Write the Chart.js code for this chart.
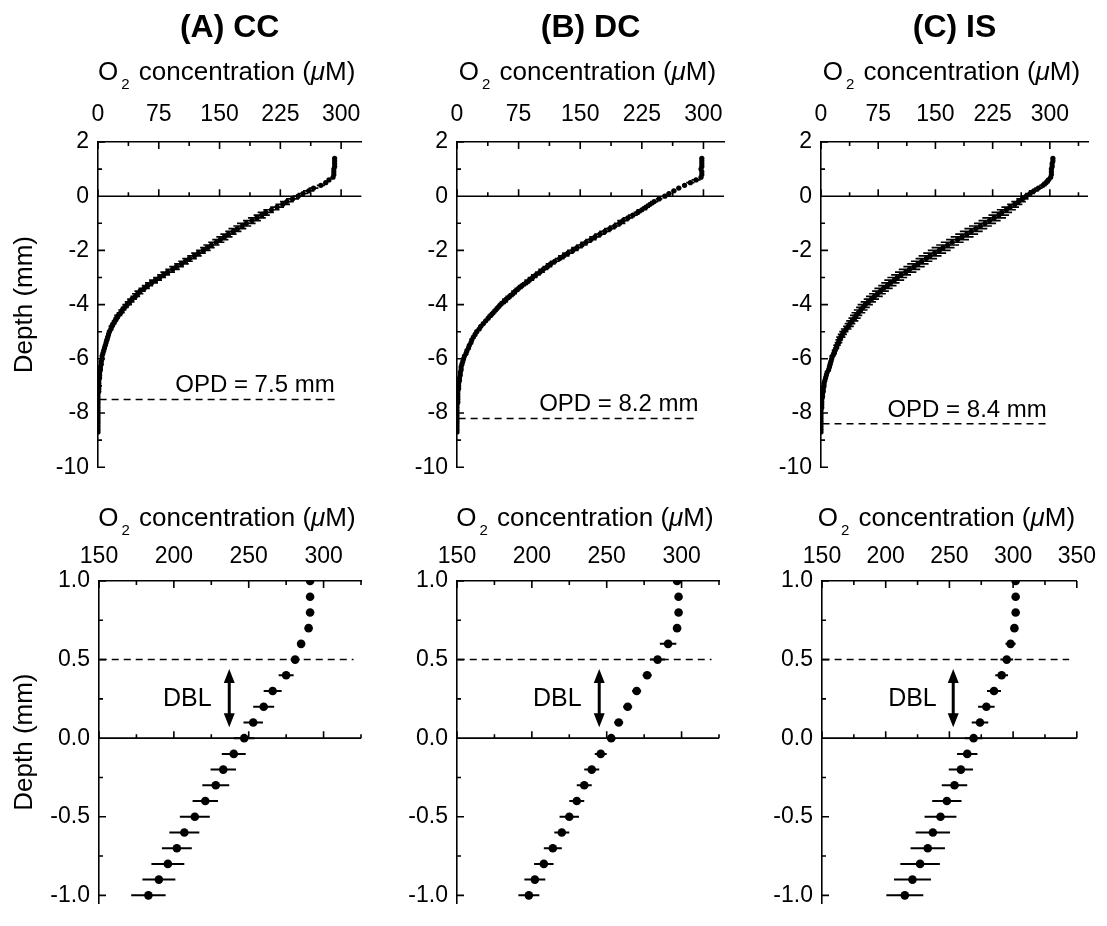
<!DOCTYPE html>
<html>
<head>
<meta charset="utf-8">
<script src="https://cdn.jsdelivr.net/npm/chart.js@4.4.1/dist/chart.umd.min.js"></script>
<style>
  html, body { margin: 0; padding: 0; background: #fff; }
  #wrap { position: relative; width: 1107px; height: 926px; overflow: hidden; }
  #wrap canvas { position: absolute; }
</style>
</head>
<body>
<div id="wrap"></div>
<script>
// depth of each profile point (mm), shared by all three profiles
const DEPTH = [
  1.4, 1.3, 1.2, 1.1, 1.0, 0.9, 0.8, 0.7, 0.6, 0.5,
  0.4, 0.3, 0.2, 0.1, 0.0, -0.1, -0.2, -0.3, -0.4, -0.5,
  -0.6, -0.7, -0.8, -0.9, -1.0, -1.1, -1.2, -1.3, -1.4, -1.5,
  -1.6, -1.7, -1.8, -1.9, -2.0, -2.1, -2.2, -2.3, -2.4, -2.5,
  -2.6, -2.7, -2.8, -2.9, -3.0, -3.1, -3.2, -3.3, -3.4, -3.5,
  -3.6, -3.7, -3.8, -3.9, -4.0, -4.1, -4.2, -4.3, -4.4, -4.5,
  -4.6, -4.7, -4.8, -4.9, -5.0, -5.1, -5.2, -5.3, -5.4, -5.5,
  -5.6, -5.7, -5.8, -5.9, -6.0, -6.1, -6.2, -6.3, -6.4, -6.5,
  -6.6, -6.7, -6.8, -6.9, -7.0, -7.1, -7.2, -7.3, -7.4, -7.5,
  -7.6, -7.7, -7.8, -7.9, -8.0, -8.1, -8.2, -8.3, -8.4, -8.5,
  -8.6, -8.7
];

// O2 concentration (uM) and +/- error, (A) CC
const O2_CC = [
  292, 292, 292, 292, 291, 291, 291, 290, 285, 281,
  275, 266, 260, 253, 247, 240, 233, 228, 221, 214,
  207, 202, 196, 190, 183, 178, 172, 167, 161, 156,
  151, 146, 140, 135, 130, 124, 119, 113, 108, 103,
  97, 92, 86, 81, 76, 71, 66, 61, 57, 52,
  49, 46, 42, 39, 36, 33, 30, 28, 25, 23,
  21, 19, 17, 16, 14, 13, 12, 11, 10, 9,
  8, 7, 6, 5, 5, 4, 4, 3, 3, 2,
  2, 2, 1, 1, 1, 1, 1, 0, 0, 0,
  0, 0, 0, 0, 0, 0, 0, 0, 0, 0,
  0, 0
];
const ERR_CC = [
  1, 1, 1, 1, 1, 1, 1, 2, 2, 3,
  5, 6, 7, 6.5, 7, 8, 8.5, 9, 8.5, 10,
  10, 10, 11, 11, 11.5, 11, 11, 10, 10, 10,
  10, 10, 10, 9, 9, 9, 9, 9, 9, 9,
  9, 9, 9, 8, 8, 8, 8, 7, 7, 7,
  7, 6, 6, 6, 6, 5, 5, 5, 5, 4,
  4, 4, 4, 3, 3, 3, 3, 3, 2, 2,
  2, 2, 2, 2, 2, 2, 1, 1, 1, 1,
  1, 1, 1, 1, 1, 1, 1, 1, 1, 1,
  1, 1, 1, 1, 1, 1, 1, 1, 1, 1,
  1, 1
];

// (B) DC
const O2_DC = [
  298, 298, 298, 298, 297, 298, 298, 297, 291, 284,
  277, 270, 264, 258, 253, 246, 240, 235, 230, 225,
  220, 214, 208, 202, 198, 192, 186, 180, 174, 168,
  163, 157, 152, 146, 141, 135, 130, 125, 119, 114,
  110, 105, 101, 96, 92, 88, 84, 79, 75, 71,
  68, 64, 60, 57, 53, 50, 47, 44, 41, 38,
  35, 32, 29, 27, 24, 22, 20, 18, 17, 15,
  14, 12, 11, 9, 8, 7, 6, 5, 5, 4,
  4, 3, 3, 2, 2, 2, 1, 1, 1, 1,
  1, 0, 0, 0, 0, 0, 0, 0, 0, 0,
  0, 0
];
const ERR_DC = [
  1, 1, 1, 1, 1, 1, 1, 1, 5.5, 5,
  3, 3, 3, 3, 3, 4, 5, 5, 5, 6.5,
  5, 6, 6.5, 7, 7, 7, 7, 7, 7, 7,
  7, 7, 7, 7, 7, 7, 7, 6, 6, 6,
  6, 6, 6, 6, 6, 6, 5, 5, 5, 5,
  5, 5, 5, 5, 4, 4, 4, 4, 4, 3,
  3, 3, 3, 3, 3, 2, 2, 2, 2, 2,
  2, 2, 2, 2, 1, 1, 1, 1, 1, 1,
  1, 1, 1, 1, 1, 1, 1, 1, 1, 1,
  1, 1, 1, 1, 1, 1, 1, 1, 1, 1,
  1, 1
];

// (C) IS
const O2_IS = [
  304, 304, 303, 303, 302, 302, 302, 301, 298, 295,
  291, 285, 279, 274, 269, 264, 259, 254, 248, 243,
  237, 233, 227, 221, 215, 209, 203, 197, 191, 185,
  179, 172, 166, 160, 155, 149, 143, 138, 132, 127,
  122, 116, 111, 105, 100, 96, 91, 87, 82, 78,
  74, 70, 66, 62, 58, 55, 52, 49, 46, 44,
  41, 38, 36, 33, 30, 28, 26, 24, 23, 21,
  20, 18, 17, 15, 14, 13, 12, 11, 10, 8,
  7, 6, 5, 4, 4, 3, 3, 2, 2, 1,
  1, 1, 1, 0, 0, 0, 0, 0, 0, 0,
  0, 0
];
const ERR_IS = [
  1, 1, 1, 1, 1, 1, 1, 1, 4, 5,
  5, 5.5, 6.5, 6.5, 7, 8, 9.5, 10, 11.5, 12.5,
  13.5, 13.5, 15.5, 14.5, 14.5, 15, 15, 15, 15, 15,
  15, 15, 15, 15, 15, 15, 15, 14, 14, 14,
  14, 14, 14, 13, 13, 13, 12, 12, 12, 11,
  11, 11, 10, 10, 10, 9, 9, 9, 8, 8,
  8, 7, 7, 7, 6, 6, 6, 5, 5, 5,
  4, 4, 4, 4, 3, 3, 3, 3, 2, 2,
  2, 2, 2, 2, 2, 1, 1, 1, 1, 1,
  1, 1, 1, 1, 1, 1, 1, 1, 1, 1,
  1, 1
];

// ticks (all marks) and labelled ticks
const X_TICKS_TOP = [0, 37.5, 75, 112.5, 150, 187.5, 225, 262.5, 300, 337.5];
const X_LABELS_TOP = [0, 75, 150, 225, 300];
const Y_TICKS_TOP = [2, 1, 0, -1, -2, -3, -4, -5, -6, -7, -8, -9, -10];
const Y_LABELS_TOP = [2, 0, -2, -4, -6, -8, -10];
const X_TICKS_BOT = [150, 175, 200, 225, 250, 275, 300, 325, 350];
const X_LABELS_BOT = [150, 200, 250, 300, 350];
const Y_TICKS_BOT = [1, 0.75, 0.5, 0.25, 0, -0.25, -0.5, -0.75, -1];
const Y_LABELS_BOT = [1, 0.5, 0, -0.5, -1];

// annotations: oxygen penetration depth and diffusive boundary layer
const OPD_DEPTH = [-7.5, -8.2, -8.4];
const OPD_END = [292, 294, 296];
const OPD_TEXT = ['OPD = 7.5 mm', 'OPD = 8.2 mm', 'OPD = 8.4 mm'];
const DBL_TOP = 0.5;
const DBL_END = [320, 320, 344];
const DBL_ARROW_X = [237, 245, 253];
const DBL_ARROW_Y = [0.44, 0.07];
const DBL_TEXT_X = [209, 217, 221];
const DBL_TEXT_Y = 0.25;

const TITLES = ['(A) CC', '(B) DC', '(C) IS'];
const SERIES = [[O2_CC, ERR_CC], [O2_DC, ERR_DC], [O2_IS, ERR_IS]];

const FONT = '"Liberation Sans", Arial, Helvetica, sans-serif';
const Y_AXIS_W = 60;
const X_AXIS_H = 50;

// canvas boxes per column, plot paddings per panel
const COLS = [
  { x: 0, w: 375, top: { l: 98, r: 9 }, bot: { l: 99, r: 14 } },
  { x: 375, w: 365, top: { l: 82, r: 16 }, bot: { l: 82, r: 21 } },
  { x: 740, w: 367, top: { l: 81, r: 19 }, bot: { l: 82, r: 24 } }
];

function drawAxisTitle(ctx, cx, baseline) {
  const big = '26px ' + FONT, small = '15px ' + FONT;
  const parts = [
    { t: 'O', f: big, dy: 0 },
    { t: '2', f: small, dy: 9, pre: 3 },
    { t: ' concentration (', f: big, dy: 0, pre: 2 },
    { t: '\u03bc', f: 'italic ' + big, dy: 0 },
    { t: 'M)', f: big, dy: 0 }
  ];
  let total = 0;
  parts.forEach(p => { ctx.font = p.f; p.w = ctx.measureText(p.t).width; total += p.w + (p.pre || 0); });
  let x = cx - total / 2;
  ctx.textAlign = 'left';
  ctx.textBaseline = 'alphabetic';
  parts.forEach(p => {
    x += p.pre || 0;
    ctx.font = p.f;
    ctx.fillText(p.t, x, baseline + p.dy);
    x += p.w;
  });
}

const decoPlugin = {
  id: 'deco',
  beforeDatasetsDraw(chart, args, o) {
    const { ctx, chartArea } = chart;
    const xs = chart.scales.x, ys = chart.scales.y;
    ctx.save();
    ctx.beginPath();
    ctx.rect(chartArea.left, chartArea.top, chartArea.right - chartArea.left, chartArea.bottom - chartArea.top);
    ctx.clip();
    ctx.strokeStyle = '#000';
    ctx.lineWidth = o.errWidth;
    ctx.beginPath();
    o.conc.forEach((c, i) => {
      const y = ys.getPixelForValue(DEPTH[i]);
      ctx.moveTo(xs.getPixelForValue(c - o.err[i]), y);
      ctx.lineTo(xs.getPixelForValue(c + o.err[i]), y);
    });
    ctx.stroke();
    ctx.restore();
  },
  afterDraw(chart, args, o) {
    const { ctx, chartArea } = chart;
    const { left, right, top, bottom } = chartArea;
    const xs = chart.scales.x, ys = chart.scales.y;
    const y0 = ys.getPixelForValue(0);
    ctx.save();
    ctx.fillStyle = '#000';
    ctx.strokeStyle = '#000';

    // zero line and tick marks
    ctx.lineWidth = 1.6;
    ctx.beginPath();
    ctx.moveTo(left, y0); ctx.lineTo(right, y0);
    o.xTicks.forEach(v => {
      if (v < xs.min || v > xs.max) return;
      const len = o.xLabels.includes(v) ? 7 : 4;
      const px = xs.getPixelForValue(v);
      ctx.moveTo(px, top); ctx.lineTo(px, top + len);
      ctx.moveTo(px, y0); ctx.lineTo(px, y0 - len);
    });
    o.yTicks.forEach(v => {
      if (v < ys.min || v > ys.max) return;
      const len = o.yLabels.includes(v) ? 7 : 4;
      const py = ys.getPixelForValue(v);
      ctx.moveTo(left, py); ctx.lineTo(left + len, py);
    });
    ctx.stroke();

    // dashed reference line
    ctx.lineWidth = 1.5;
    ctx.setLineDash([7, 5]);
    const dy = ys.getPixelForValue(o.dashY);
    ctx.beginPath();
    ctx.moveTo(xs.getPixelForValue(o.dashFrom), dy);
    ctx.lineTo(xs.getPixelForValue(o.dashTo), dy);
    ctx.stroke();
    ctx.setLineDash([]);

    if (o.opdText) {
      ctx.font = '24px ' + FONT;
      ctx.textAlign = 'right';
      ctx.textBaseline = 'alphabetic';
      ctx.fillText(o.opdText, xs.getPixelForValue(o.dashTo), dy - 7);
    }

    if (o.arrowX != null) {
      const ax = xs.getPixelForValue(o.arrowX);
      const a1 = ys.getPixelForValue(DBL_ARROW_Y[0]);
      const a2 = ys.getPixelForValue(DBL_ARROW_Y[1]);
      const h = 14, w = 5.5;
      ctx.lineWidth = 3;
      ctx.beginPath();
      ctx.moveTo(ax, a1 + h - 2); ctx.lineTo(ax, a2 - h + 2);
      ctx.stroke();
      ctx.beginPath();
      ctx.moveTo(ax, a1); ctx.lineTo(ax - w, a1 + h); ctx.lineTo(ax + w, a1 + h); ctx.closePath();
      ctx.moveTo(ax, a2); ctx.lineTo(ax - w, a2 - h); ctx.lineTo(ax + w, a2 - h); ctx.closePath();
      ctx.fill();
      ctx.font = '25px ' + FONT;
      ctx.textAlign = 'center';
      ctx.textBaseline = 'middle';
      ctx.fillText('DBL', xs.getPixelForValue(o.textX), ys.getPixelForValue(DBL_TEXT_Y));
    }

    // titles
    const cx = (left + right) / 2;
    if (o.title) {
      ctx.font = 'bold 32px ' + FONT;
      ctx.textAlign = 'center';
      ctx.textBaseline = 'middle';
      ctx.fillText(o.title, cx, 28);
    }
    drawAxisTitle(ctx, cx - 3, o.axisTitleY);

    if (o.depthLabel) {
      ctx.save();
      ctx.translate(25, (top + bottom) / 2);
      ctx.rotate(-Math.PI / 2);
      ctx.font = '26px ' + FONT;
      ctx.textAlign = 'center';
      ctx.textBaseline = 'middle';
      ctx.fillText('Depth (mm)', 0, 0);
      ctx.restore();
    }
    ctx.restore();
  }
};

function makePanel(col, row) {
  const c = COLS[col];
  const isTop = row === 0;
  const canvas = document.createElement('canvas');
  const y = isTop ? 0 : 490, h = isTop ? 490 : 436;
  canvas.width = c.w; canvas.height = h;
  canvas.style.left = c.x + 'px'; canvas.style.top = y + 'px';
  canvas.style.width = c.w + 'px'; canvas.style.height = h + 'px';
  document.getElementById('wrap').appendChild(canvas);

  const [conc, err] = SERIES[col];
  const pad = isTop ? c.top : c.bot;
  const plotTop = isTop ? 142 : 91;
  const xTicks = isTop ? X_TICKS_TOP : X_TICKS_BOT;
  const xLabels = isTop ? X_LABELS_TOP : X_LABELS_BOT;
  const yTicks = isTop ? Y_TICKS_TOP : Y_TICKS_BOT;
  const yLabels = isTop ? Y_LABELS_TOP : Y_LABELS_BOT;
  const xMin = isTop ? 0 : 150;
  const xMax = col === 2 ? 350 : 325;
  const tickFont = { family: FONT, size: 23 };

  new Chart(canvas, {
    type: 'scatter',
    data: {
      datasets: [{
        data: DEPTH.map((d, i) => ({ x: conc[i], y: d })),
        pointRadius: isTop ? 2.6 : 4.3,
        pointBackgroundColor: '#000',
        pointBorderWidth: 0,
        pointStyle: 'circle',
        clip: 0
      }]
    },
    options: {
      responsive: false,
      animation: false,
      events: [],
      layout: {
        padding: {
          left: pad.l - Y_AXIS_W,
          right: pad.r,
          top: plotTop - X_AXIS_H,
          bottom: isTop ? 10 : 3
        }
      },
      plugins: {
        legend: { display: false },
        tooltip: { enabled: false },
        deco: {
          conc, err,
          errWidth: isTop ? 1.7 : 2,
          xTicks, xLabels, yTicks, yLabels,
          dashY: isTop ? OPD_DEPTH[col] : DBL_TOP,
          dashFrom: isTop ? 2 : 150.5,
          dashTo: isTop ? OPD_END[col] : DBL_END[col],
          opdText: isTop ? OPD_TEXT[col] : null,
          arrowX: isTop ? null : DBL_ARROW_X[col],
          textX: DBL_TEXT_X[col],
          title: isTop ? TITLES[col] : null,
          axisTitleY: isTop ? 80 : 36,
          depthLabel: col === 0
        }
      },
      scales: {
        x: {
          type: 'linear',
          position: 'top',
          min: xMin,
          max: xMax,
          afterFit: s => { s.height = X_AXIS_H; },
          afterBuildTicks: s => { s.ticks = xTicks.filter(v => v >= s.min && v <= s.max).map(v => ({ value: v })); },
          ticks: {
            autoSkip: false, maxRotation: 0, color: '#000', font: tickFont,
            padding: isTop ? 14 : 11,
            callback: v => xLabels.includes(v) ? String(v) : ''
          },
          grid: { display: false, drawTicks: false },
          border: { display: true, color: '#000', width: 1.6 }
        },
        y: {
          type: 'linear',
          min: isTop ? -10 : -1.05,
          max: isTop ? 2 : 1,
          afterFit: s => { s.width = Y_AXIS_W; },
          afterBuildTicks: s => { s.ticks = yTicks.filter(v => v >= s.min && v <= s.max).map(v => ({ value: v })); },
          ticks: {
            autoSkip: false, color: '#000', font: tickFont, padding: 9,
            callback: v => yLabels.includes(v) ? (isTop ? String(v) : v.toFixed(1)) : ''
          },
          grid: { display: false, drawTicks: false },
          border: { display: true, color: '#000', width: 1.6 }
        }
      }
    },
    plugins: [decoPlugin]
  });
}

window.addEventListener('DOMContentLoaded', () => {
  for (let row = 0; row < 2; row++) {
    for (let col = 0; col < 3; col++) makePanel(col, row);
  }
});
</script>
</body>
</html>
